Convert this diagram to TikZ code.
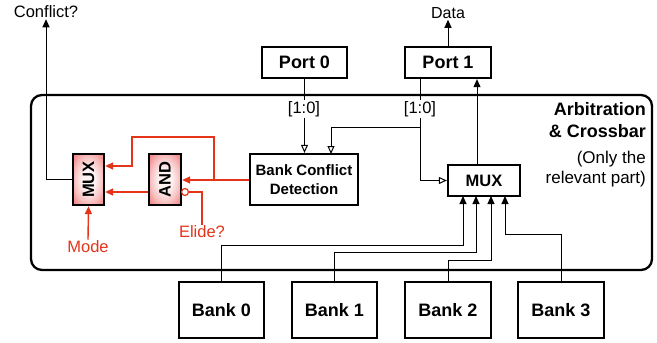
\documentclass[tikz,border=0pt]{standalone}
\usepackage{fontspec}
\setmainfont{Liberation Sans}
\usetikzlibrary{arrows.meta,calc}
\definecolor{ared}{RGB}{228,52,26}
\definecolor{boxred}{RGB}{242,140,140}
\definecolor{boxmid}{RGB}{248,195,195}
\definecolor{boxlight}{RGB}{254,244,244}
\pgfdeclareradialshading{redglow}{\pgfpoint{0bp}{0bp}}{%
  color(0bp)=(boxlight); color(10bp)=(boxlight); color(22bp)=(boxmid); color(32bp)=(boxred); color(50bp)=(boxred)}
\begin{document}
\begin{tikzpicture}[x=1pt,y=-1pt,
  thk/.style={line width=2.3pt},
  blk/.style={draw,thk,rectangle,inner sep=0pt,font=\fontsize{18}{20}\selectfont\bfseries},
  redblk/.style={draw,thk,rectangle,inner sep=0pt,minimum width=31pt,minimum height=51pt,
     shading=redglow,font=\fontsize{16.5}{18}\selectfont\bfseries},
  txt/.style={inner sep=1pt,font=\fontsize{16.5}{18}\selectfont},
  wire/.style={line width=1pt},
  rwire/.style={line width=1.4pt,draw=ared},
  arr/.style={-{Triangle[length=8pt,width=7pt]}},
  oarr/.style={-{Triangle[open,length=8pt,width=7pt,fill=white]}},
]
\useasboundingbox (0,0) rectangle (657,343);

% outer block
\draw[thk,rounded corners=11pt] (31,95) rectangle (652,270);

% boxes
\node[blk,minimum width=85pt,minimum height=31pt] (port0) at (304.5,62.5) {Port 0};
\node[blk,minimum width=86pt,minimum height=31pt] (port1) at (448,62.5) {Port 1};
\node[blk,minimum width=108pt,minimum height=51pt,align=center,font=\fontsize{15}{19}\selectfont\bfseries] (bcd) at (304,179.5) {Bank Conflict\\Detection};
\node[blk,minimum width=72pt,minimum height=31pt,font=\fontsize{16.5}{18}\selectfont\bfseries] (rmux) at (484,180.5) {MUX};
\node[redblk] (lmux) at (88.5,179.5) {\rotatebox{90}{MUX}};
\node[redblk,minimum width=32pt] (and) at (165,179.5) {\rotatebox{90}{AND}};
\node[blk,minimum width=85pt,minimum height=56pt] (bank0) at (221.5,310) {Bank 0};
\node[blk,minimum width=85pt,minimum height=56pt] (bank1) at (334.5,310) {Bank 1};
\node[blk,minimum width=86pt,minimum height=56pt] (bank2) at (448,310) {Bank 2};
\node[blk,minimum width=86pt,minimum height=56pt] (bank3) at (561,310) {Bank 3};

% texts
\node[txt] (conf) at (46,12) {Conflict?};
\node[txt,font=\fontsize{16}{18}\selectfont] (data) at (448,13) {Data};
\node[txt,text=ared] (mode) at (88,247) {Mode};
\node[txt,text=ared] (elide) at (202,232) {Elide?};
\node[anchor=north east,align=right,inner sep=0pt,font=\fontsize{18}{22}\selectfont\bfseries] (title) at (646,102) {Arbitration\\\& Crossbar};
\node[anchor=north east,align=right,inner sep=0pt,font=\fontsize{17}{20}\selectfont] (sub) at (646,151) {(Only the\\relevant part)};

% black wires
\draw[wire,arr] (lmux.west) -| (conf.south);
\draw[wire,arr] (port1.north) -- (data.south);
\draw[wire,oarr] (port0.south) -- (port0.south |- bcd.north);
\coordinate (p1b) at (420,127);
\draw[wire,oarr] (p1b |- port1.south) -- (p1b) -| (331,154);
\draw[wire,oarr] (p1b) |- (rmux.west);
\coordinate (mo) at (477,165);
\draw[wire,arr] (mo) -- (mo |- port1.south);
\node[txt,fill=white] (lab0) at (304,109) {[1:0]};
\node[txt,fill=white] (lab1) at (420,109) {[1:0]};

\coordinate (in0) at (463,196);
\coordinate (in1) at (476,196);
\coordinate (in2) at (491,196);
\coordinate (in3) at (505,196);
\draw[wire,arr] (bank0.north) -- ++(0,-35) -| (in0);
\draw[wire,arr] (bank1.north) -- ++(0,-28) -| (in1);
\draw[wire,arr] (bank2.north) -- ++(0,-20) -| (in2);
\draw[wire,arr] (bank3.north) -- ++(0,-46) -| (in3);

% red wires
\coordinate (br) at (214,180);
\draw[rwire] (bcd.west |- br) -- (br);
\draw[rwire,arr,ared] (br) -- (and.east |- br);
\draw[rwire,arr,ared] (br) |- (132,137) -- (132,166) -- (lmux.east |- 0,166);
\draw[rwire,arr,ared] (and.west |- 0,192) -- (lmux.east |- 0,192);
\node[circle,draw=ared,line width=1.2pt,fill=white,inner sep=0pt,minimum size=7pt] (bub) at (185,192) {};
\draw[rwire] (bub.east) -| (elide.north);
\draw[rwire,arr,ared] (mode.north) -- (lmux.south);
\end{tikzpicture}
\end{document}
